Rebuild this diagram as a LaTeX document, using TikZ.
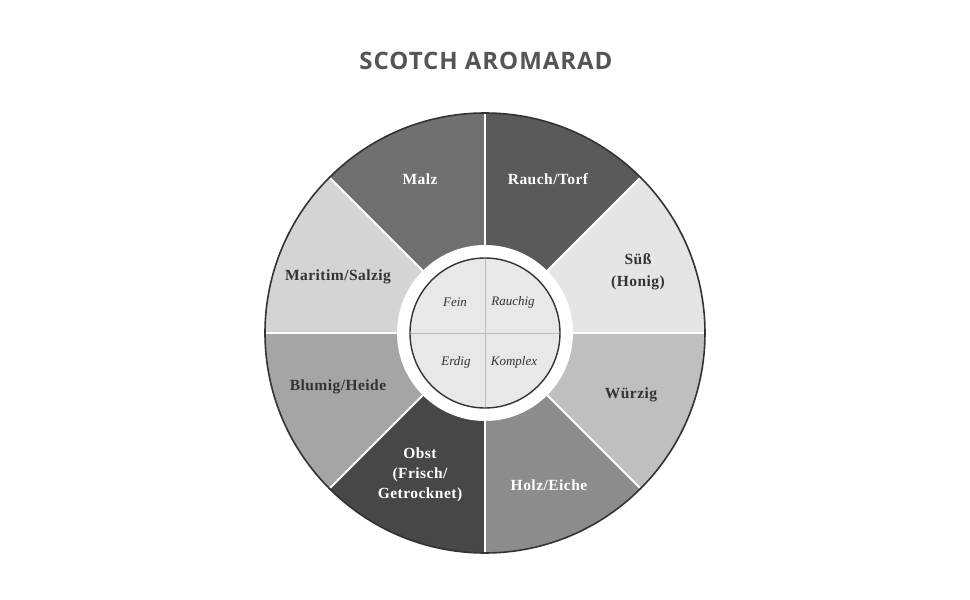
\documentclass[tikz,border=0pt]{standalone}
\usepackage{fontspec}
\setmainfont{Liberation Serif}
\newfontfamily\titlefont[LetterSpace=4]{Open Sans}
\newfontfamily\labfont[LetterSpace=3]{Liberation Serif}
\definecolor{cMalz}{HTML}{707070}
\definecolor{cRauch}{HTML}{5A5A5A}
\definecolor{cSuess}{HTML}{E5E5E5}
\definecolor{cWuerz}{HTML}{BFBFBF}
\definecolor{cHolz}{HTML}{8C8C8C}
\definecolor{cObst}{HTML}{474747}
\definecolor{cBlum}{HTML}{A5A5A5}
\definecolor{cMarit}{HTML}{D4D4D4}
\definecolor{cText}{HTML}{333333}
\definecolor{cTitle}{HTML}{555555}
\definecolor{cInner}{HTML}{E8E8E8}
\definecolor{cRim}{HTML}{333333}
\definecolor{cQuad}{HTML}{BBBBBB}
\begin{document}
\begin{tikzpicture}[x=1pt,y=1pt,
  darklab/.style={font=\labfont\bfseries\fontsize{15.5}{20}\selectfont,text=white,align=center},
  lightlab/.style={font=\labfont\bfseries\fontsize{15.5}{22}\selectfont,text=cText,align=center},
  innerlab/.style={font=\itshape\fontsize{13}{15}\selectfont,text=cText}]
\useasboundingbox[fill=white] (-485,-267) rectangle (485,333);
\node[font=\titlefont\bfseries\fontsize{24}{28}\selectfont,text=cTitle] (title) at (1,272) {SCOTCH AROMARAD};
% sectors
\def\R{220}
\foreach \a/\c in {45/cRauch,0/cSuess,-45/cWuerz,-90/cHolz,-135/cObst,-180/cBlum,135/cMarit,90/cMalz}{
  \fill[\c] (0,0) -- (\a:\R) arc[start angle=\a,delta angle=45,radius=\R] -- cycle;
}
\foreach \a in {0,45,...,315}{
  \draw[white,line width=2pt] (0,0) -- (\a:\R);
}
\draw[cRim,line width=1.6pt] (0,0) circle[radius=\R];
% white ring and inner disc
\fill[white] (0,0) circle[radius=88];
\fill[cInner] (0,0) circle[radius=75];
\draw[cQuad,line width=0.8pt] (-75,0) -- (75,0) (0,-75) -- (0,75);
\draw[cRim,line width=1.4pt] (0,0) circle[radius=75];
% outer labels
\node[darklab] (malz) at (-65,154) {Malz};
\node[darklab] (rauch) at (63,154) {Rauch/Torf};
\node[lightlab] (suess) at (153,61) {Süß\\(Honig)};
\node[lightlab] (wuerz) at (146,-62) {Würzig};
\node[darklab] (holz) at (64,-152) {Holz/Eiche};
\node[darklab] (obst) at (-65,-142) {Obst\\(Frisch/\\Getrocknet)};
\node[lightlab] (blum) at (-147,-54) {Blumig/Heide};
\node[lightlab] (marit) at (-147,56) {Maritim/Salzig};
% inner labels
\node[innerlab] (fein) at (-30,31) {Fein};
\node[innerlab] (rauchig) at (28,31) {Rauchig};
\node[innerlab] (erdig) at (-29,-29) {Erdig};
\node[innerlab] (komplex) at (29,-29) {Komplex};
\end{tikzpicture}
\end{document}
